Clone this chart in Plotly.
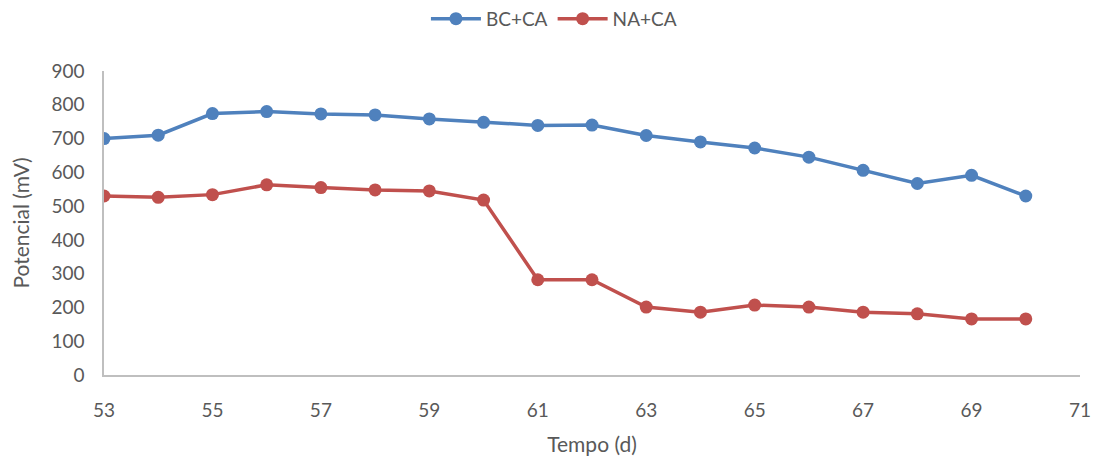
import plotly.graph_objects as go

dias = list(range(53, 71))
bc_ca = [700, 710, 774, 780, 773, 770, 758, 748, 739, 740, 709, 690, 672, 645, 606, 567, 591, 530]
na_ca = [530, 526, 534, 563, 555, 548, 545, 518, 282, 282, 201, 186, 207, 201, 186, 181, 166, 166]

azul = '#4F81BD'
rojo = '#C0504D'
gris_txt = '#595959'

fig = go.Figure()

for nombre, valores, color in [('BC+CA', bc_ca, azul), ('NA+CA', na_ca, rojo)]:
    fig.add_trace(
        go.Scatter(
            x=dias,
            y=valores,
            name=nombre,
            mode='lines+markers',
            line=dict(color=color, width=3.5),
            marker=dict(color=color, size=13),
        )
    )

# page body keeps an 8px margin, so the figure is a bit smaller than the window
fig.update_layout(
    width=1094,
    height=451,
    plot_bgcolor='white',
    paper_bgcolor='white',
    margin=dict(l=96, r=22, t=63, b=84, autoexpand=False),
    font=dict(family='Lato, Open Sans, sans-serif', color=gris_txt, size=19),
    legend=dict(
        orientation='h',
        x=0.461, xanchor='center',
        y=1.234, yanchor='top',
        font=dict(size=19),
        itemwidth=50,
    ),
    showlegend=True,
)

fig.update_xaxes(
    range=[53, 71],
    tickvals=list(range(53, 72, 2)),
    showgrid=False,
    zeroline=False,
    showline=True,
    linecolor='#BFBFBF',
    linewidth=1.5,
    ticks='',
    ticklabelstandoff=17,
    automargin=False,
    title=dict(text='Tempo (d)', font=dict(size=21), standoff=18),
)
fig.update_yaxes(
    range=[0, 900],
    dtick=100,
    showgrid=False,
    zeroline=False,
    showline=True,
    linecolor='#BFBFBF',
    linewidth=1.5,
    ticks='',
    ticklabelstandoff=14,
    automargin=False,
    title=dict(text='Potencial (mV)', font=dict(size=21), standoff=18),
)

fig.write_html("out.html")
